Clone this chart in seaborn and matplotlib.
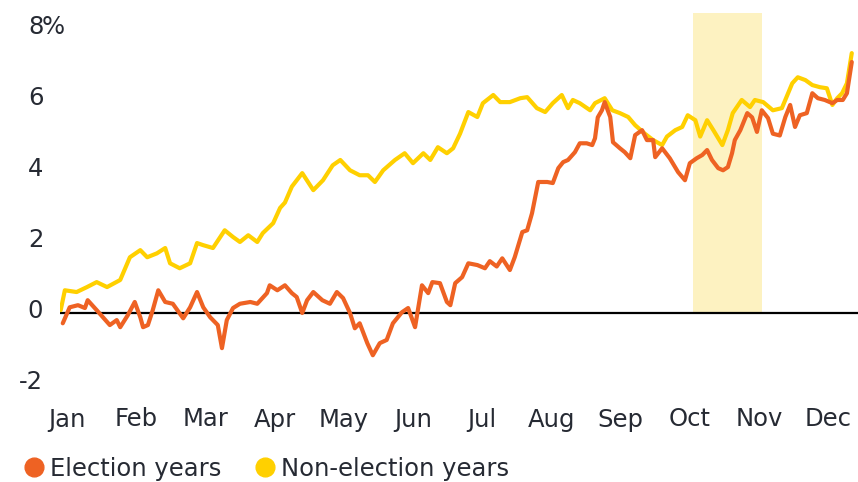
import matplotlib
matplotlib.use("Agg")
import matplotlib.pyplot as plt
import matplotlib.transforms as mtransforms
from matplotlib.lines import Line2D
import numpy as np
import pandas as pd
import seaborn as sns

# ---------------- data (x in month units: 0 = Jan ... 11 = Dec) ----------------
months = ["Jan", "Feb", "Mar", "Apr", "May", "Jun", "Jul", "Aug", "Sep", "Oct", "Nov", "Dec"]
month_pos = list(range(12))

nonelec_x = [-0.09, -0.03, 0.14, 0.29, 0.43, 0.58, 0.77, 0.91, 1.06, 1.16, 1.30, 1.42, 1.49, 1.63,
             1.78, 1.88, 1.97, 2.11, 2.28, 2.40, 2.50, 2.62, 2.75, 2.83, 2.98, 3.08, 3.15, 3.25,
             3.40, 3.56, 3.70, 3.84, 3.95, 4.09, 4.23, 4.35, 4.45, 4.57, 4.74, 4.88, 5.00, 5.15,
             5.25, 5.36, 5.49, 5.58, 5.68, 5.80, 5.93, 6.01, 6.16, 6.26, 6.40, 6.55, 6.65, 6.79,
             6.91, 7.02, 7.15, 7.24, 7.31, 7.41, 7.56, 7.63, 7.77, 7.88, 7.99, 8.11, 8.21, 8.35,
             8.47, 8.60, 8.67, 8.79, 8.89, 8.97, 9.08, 9.15, 9.25, 9.34, 9.47, 9.55, 9.62, 9.75,
             9.87, 9.94, 10.06, 10.20, 10.33, 10.48, 10.56, 10.67, 10.77, 10.88, 10.98, 11.06,
             11.13, 11.20, 11.27, 11.34]
nonelec_y = [0.07, 0.63, 0.58, 0.72, 0.86, 0.72, 0.92, 1.56, 1.76, 1.56, 1.67, 1.82, 1.39, 1.25,
             1.39, 1.96, 1.90, 1.82, 2.32, 2.13, 1.99, 2.18, 1.99, 2.24, 2.52, 2.95, 3.10, 3.55,
             3.93, 3.45, 3.73, 4.15, 4.30, 4.01, 3.87, 3.87, 3.68, 4.01, 4.30, 4.49, 4.21, 4.49,
             4.30, 4.66, 4.49, 4.63, 5.04, 5.65, 5.51, 5.90, 6.13, 5.93, 5.93, 6.04, 6.07, 5.76,
             5.65, 5.90, 6.13, 5.76, 5.99, 5.90, 5.70, 5.90, 6.04, 5.70, 5.62, 5.51, 5.28, 5.04,
             4.86, 4.72, 4.96, 5.14, 5.23, 5.56, 5.42, 4.96, 5.42, 5.14, 4.72, 5.14, 5.62, 5.99,
             5.79, 5.99, 5.93, 5.70, 5.76, 6.46, 6.63, 6.55, 6.41, 6.35, 6.32, 5.85,
             6.04, 6.18, 6.46, 7.31]

elec_x = [-0.06, 0.04, 0.16, 0.26, 0.30, 0.43, 0.52, 0.62, 0.72, 0.77, 0.88, 0.98, 1.06, 1.10,
          1.17, 1.24, 1.32, 1.42, 1.53, 1.68, 1.78, 1.88, 1.97, 2.07, 2.18, 2.24, 2.31, 2.40,
          2.50, 2.65, 2.75, 2.89, 2.93, 3.04, 3.15, 3.25, 3.32, 3.40, 3.47, 3.56, 3.69, 3.80,
          3.90, 3.99, 4.09, 4.16, 4.23, 4.34, 4.42, 4.52, 4.62, 4.71, 4.84, 4.93, 5.03, 5.13,
          5.22, 5.28, 5.39, 5.49, 5.54, 5.61, 5.71, 5.80, 5.93, 6.04, 6.11, 6.21, 6.29, 6.40,
          6.47, 6.58, 6.65, 6.72, 6.81, 6.94, 7.02, 7.10, 7.17, 7.24, 7.34, 7.41, 7.51, 7.59,
          7.63, 7.67, 7.73, 7.77, 7.85, 7.89, 7.99, 8.06, 8.14, 8.21, 8.31, 8.38, 8.47, 8.50,
          8.60, 8.71, 8.83, 8.93, 9.00, 9.10, 9.18, 9.25, 9.32, 9.41, 9.48, 9.55, 9.61, 9.65,
          9.73, 9.83, 9.90, 9.97, 10.04, 10.13, 10.20, 10.30, 10.38, 10.45, 10.52, 10.59, 10.69,
          10.77, 10.85, 10.95, 11.06, 11.13, 11.21, 11.27, 11.34]
elec_y = [-0.30, 0.15, 0.21, 0.13, 0.35, 0.07, -0.13, -0.35, -0.21, -0.41, -0.07, 0.30, -0.13, -0.41,
          -0.35, 0.07, 0.63, 0.30, 0.25, -0.16, 0.15, 0.58, 0.15, -0.13, -0.35, -1.00, -0.21, 0.13,
          0.25, 0.30, 0.25, 0.55, 0.77, 0.63, 0.77, 0.55, 0.44, -0.01, 0.35, 0.58, 0.35, 0.25,
          0.58, 0.41, -0.01, -0.44, -0.30, -0.86, -1.20, -0.86, -0.77, -0.30, 0.01, 0.13, -0.41, 0.77,
          0.55, 0.86, 0.83, 0.30, 0.21, 0.83, 1.00, 1.39, 1.34, 1.25, 1.45, 1.30, 1.53, 1.20,
          1.56, 2.27, 2.32, 2.80, 3.68, 3.68, 3.65, 4.07, 4.24, 4.30, 4.52, 4.77, 4.77, 4.72,
          4.91, 5.50, 5.70, 5.93, 5.51, 4.80, 4.63, 4.52, 4.35, 5.00, 5.14, 4.86, 4.86, 4.38,
          4.63, 4.35, 3.96, 3.73, 4.21, 4.35, 4.44, 4.58, 4.30, 4.07, 4.01, 4.10, 4.49, 4.86,
          5.14, 5.62, 5.50, 5.09, 5.70, 5.48, 5.04, 4.99, 5.51, 5.85, 5.23, 5.56, 5.62,
          6.18, 6.04, 5.99, 5.90, 5.99, 5.99, 6.18, 7.06]

series_names = ["Election years", "Non-election years"]
yticks = [-2, 0, 2, 4, 6, 8]
ytick_labels = ["-2", "0", "2", "4", "6", "8"]
highlight_span = [9.04, 10.05]   # pre-election window
ylim = (-2.32, 8.44)
xlim = (-0.10, 11.43)

# ---------------- styling ----------------
ELEC = "#EE6223"
NONELEC = "#FFD000"
BAND = "#FDF2C1"
TEXT = "#262a33"
FS = 17.5

sns.set_theme(style="white")
plt.rcParams["font.family"] = ["DejaVu Sans"]

df = pd.concat([
    pd.DataFrame({"month": nonelec_x, "ret": nonelec_y, "series": series_names[1]}),
    pd.DataFrame({"month": elec_x, "ret": elec_y, "series": series_names[0]}),
], ignore_index=True)

fig = plt.figure(figsize=(8.58, 4.82), dpi=100)
ax = fig.add_axes([60 / 858, 87 / 482, 798 / 858, 382 / 482])

ax.fill_between(highlight_span, 0, ylim[1], color=BAND, lw=0, zorder=0)
ax.axhline(0, color="black", lw=1.6, zorder=1)

sns.lineplot(data=df, x="month", y="ret", hue="series",
             hue_order=[series_names[1], series_names[0]],
             palette=[NONELEC, ELEC], estimator=None, sort=False,
             linewidth=3.0, legend=False, ax=ax, zorder=3)

ax.set_xlim(*xlim)
ax.set_ylim(*ylim)
for s in ax.spines.values():
    s.set_visible(False)
ax.set_xlabel("")
ax.set_ylabel("")
ax.set_xticks(month_pos)
ax.set_xticklabels(months)
ax.set_yticks(yticks)
ax.set_yticklabels(ytick_labels)
ax.tick_params(axis="x", length=0, pad=9, labelsize=FS, labelcolor=TEXT)
ax.tick_params(axis="y", length=0, pad=12, labelsize=FS, labelcolor=TEXT)
ax.grid(False)

shift_up = mtransforms.ScaledTranslation(0, 4 / 100, fig.dpi_scale_trans)
for lab in ax.get_yticklabels():
    lab.set_transform(lab.get_transform() + shift_up)

trans = mtransforms.blended_transform_factory(fig.transFigure, ax.transData) + shift_up
ax.text(42 / 858, yticks[-1], "%", transform=trans, ha="left", va="center_baseline",
        fontsize=FS, color=TEXT)

handles = [Line2D([], [], marker="o", linestyle="", markersize=13.5, color=c)
           for c in (ELEC, NONELEC)]
fig.legend(handles, series_names, loc="center left", bbox_to_anchor=(10 / 858, 1 - 469 / 482),
           ncol=2, frameon=False, fontsize=FS, handletextpad=0.05, columnspacing=1.2,
           labelcolor=TEXT, borderaxespad=0, handlelength=1.2)

fig.savefig("out.png", dpi=100)
